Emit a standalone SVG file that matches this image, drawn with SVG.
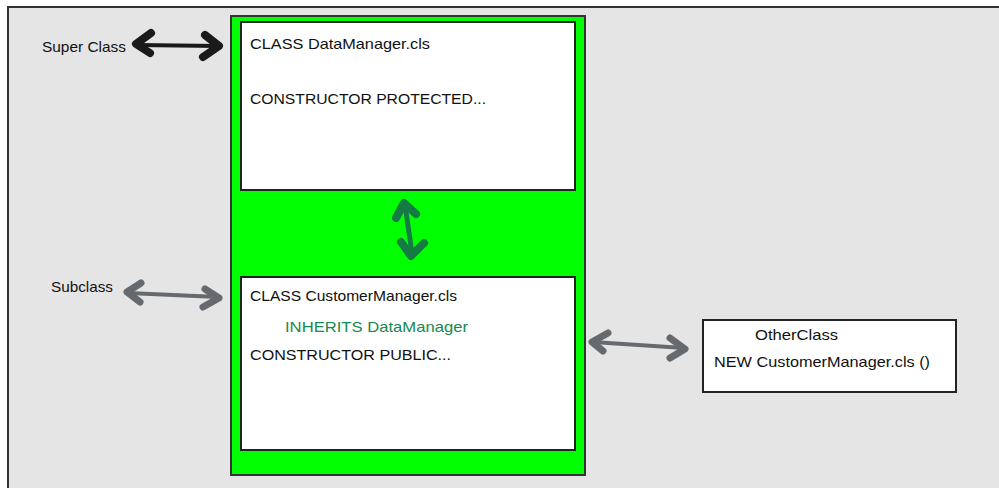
<svg xmlns="http://www.w3.org/2000/svg" width="999" height="488" viewBox="0 0 999 488">
  <style>
    .lbl { font-family: "Liberation Sans", "DejaVu Sans", sans-serif; font-size: 14.5px; fill: #111; }
    .green { fill: #168a4e; }
    .box { fill: #ffffff; stroke: #222; stroke-width: 2; }
    .arrow { fill: none; stroke-linecap: round; stroke-linejoin: round; }
  </style>
  <rect width="999" height="488" fill="#ffffff"/>
  <!-- canvas frame -->
  <rect x="8" y="7" width="1000" height="490" fill="#e5e5e5" stroke="#333" stroke-width="2"/>

  <!-- labels on the left -->
  <g id="super-class-label">
    <text class="lbl" x="42" y="52" textLength="84" lengthAdjust="spacingAndGlyphs">Super Class</text>
  </g>
  <g id="subclass-label">
    <text class="lbl" x="51" y="292" textLength="62" lengthAdjust="spacingAndGlyphs">Subclass</text>
  </g>

  <!-- green container -->
  <g id="container">
    <rect x="231" y="16" width="354" height="459" fill="#00ff00" stroke="#333" stroke-width="2"/>
  </g>

  <g id="data-manager">
    <rect class="box" x="241" y="22" width="334" height="168"/>
    <text class="lbl" x="250" y="49" textLength="180" lengthAdjust="spacingAndGlyphs">CLASS DataManager.cls</text>
    <text class="lbl" x="250" y="104" textLength="236" lengthAdjust="spacingAndGlyphs">CONSTRUCTOR PROTECTED...</text>
  </g>

  <g id="customer-manager">
    <rect class="box" x="241" y="277" width="334" height="173"/>
    <text class="lbl" x="250" y="301" textLength="207" lengthAdjust="spacingAndGlyphs">CLASS CustomerManager.cls</text>
    <text class="lbl green" x="285" y="332" textLength="183" lengthAdjust="spacingAndGlyphs">INHERITS DataManager</text>
    <text class="lbl" x="250" y="360" textLength="201" lengthAdjust="spacingAndGlyphs">CONSTRUCTOR PUBLIC...</text>
  </g>

  <g id="other-class">
    <rect class="box" x="703" y="320" width="253" height="72"/>
    <text class="lbl" x="755" y="340" textLength="83" lengthAdjust="spacingAndGlyphs">OtherClass</text>
    <text class="lbl" x="714" y="367" textLength="216" lengthAdjust="spacingAndGlyphs">NEW CustomerManager.cls ()</text>
  </g>

  <!-- connectors -->
  <g id="connectors">
    <!-- Super Class <-> DataManager -->
    <g class="arrow" stroke="#1a1a1a">
      <path d="M137 45 L218 46" stroke-width="4"/>
      <path d="M151 33 L136 44 L150 53" stroke-width="8"/>
      <path d="M205 35 L219 46 L203 57" stroke-width="8"/>
    </g>
    <!-- Subclass <-> CustomerManager -->
    <g class="arrow" stroke="#666a6e">
      <path d="M128 293 L218 297" stroke-width="4"/>
      <path d="M141 283 L127 292 L140 302" stroke-width="7"/>
      <path d="M205 289 L219 298 L203 307" stroke-width="7"/>
    </g>
    <!-- DataManager <-> CustomerManager -->
    <g class="arrow" stroke="#167a45">
      <path d="M405 205 L412 253" stroke-width="5"/>
      <path d="M396 218 L404 203 L416 214" stroke-width="8"/>
      <path d="M401 242 L411 256 L424 243" stroke-width="8"/>
    </g>
    <!-- CustomerManager <-> OtherClass -->
    <g class="arrow" stroke="#666a6e">
      <path d="M593 342 L684 348" stroke-width="4"/>
      <path d="M608 333 L592 342 L603 351" stroke-width="7"/>
      <path d="M670 338 L685 349 L670 358" stroke-width="7"/>
    </g>
  </g>
</svg>
